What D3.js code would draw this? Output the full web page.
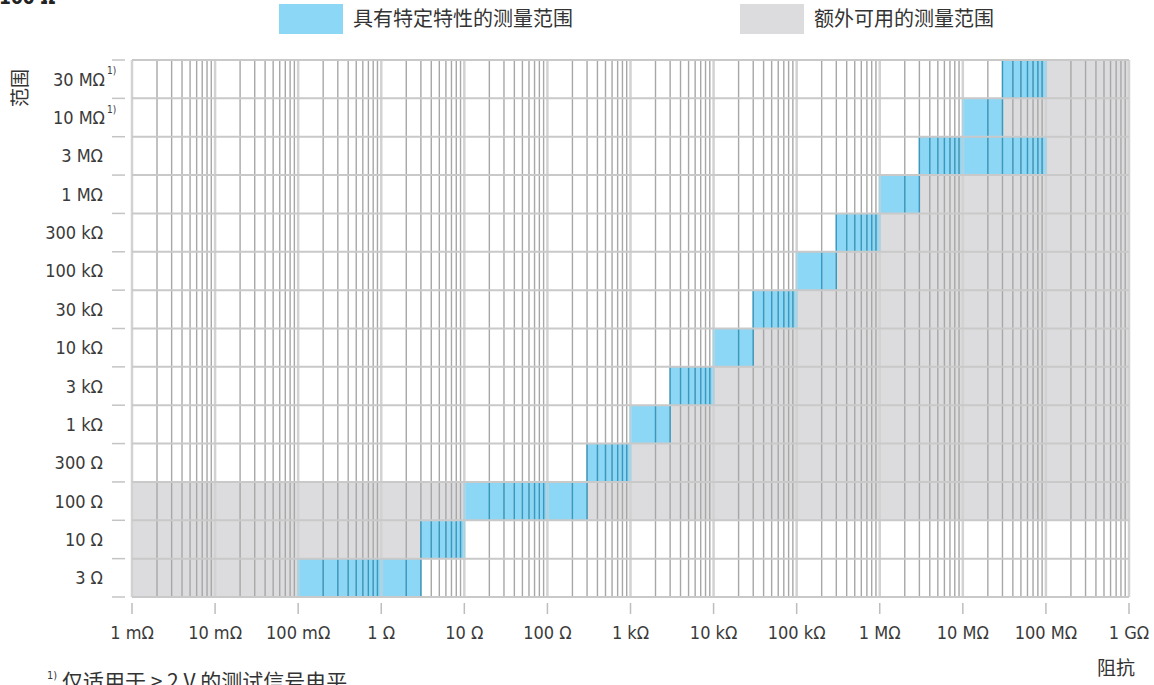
<!DOCTYPE html>
<html>
<head>
<meta charset="utf-8">
<script src="https://cdn.jsdelivr.net/npm/d3@7"></script>
<style>
  html, body { margin: 0; padding: 0; background: #fff; }
  svg { display: block; }
  .lat { font-family: "DejaVu Sans Condensed", "Liberation Sans Narrow", "Roboto", sans-serif; fill: #3a3a3a; }
  .cjk { font-family: "Noto Sans CJK SC", "Noto Sans", sans-serif; fill: #333; }
</style>
</head>
<body>
<svg id="chart" width="1154" height="685"></svg>
<script>
// ---------- data ----------
const rangeLabels = ["30 MΩ","10 MΩ","3 MΩ","1 MΩ","300 kΩ","100 kΩ","30 kΩ","10 kΩ","3 kΩ","1 kΩ","300 Ω","100 Ω","10 Ω","3 Ω"];
const rangeNote   = [true, true, false,false,false,false,false,false,false,false,false,false,false,false];

// specified measurement range (blue), per range row
const specRow   = ["30 MΩ","10 MΩ","3 MΩ","1 MΩ","300 kΩ","100 kΩ","30 kΩ","10 kΩ","3 kΩ","1 kΩ","300 Ω","100 Ω","10 Ω","3 Ω"];
const specStart = [3e7, 1e7, 3e6, 1e6, 3e5, 1e5, 3e4, 1e4, 3e3, 1e3, 300, 10, 3, 0.1];
const specEnd   = [1e8, 3e7, 1e8, 3e6, 1e6, 3e5, 1e5, 3e4, 1e4, 3e3, 1e3, 300, 10, 3];

// additional usable measurement range (grey)
const extraRow   = ["30 MΩ","10 MΩ","3 MΩ","1 MΩ","300 kΩ","100 kΩ","30 kΩ","10 kΩ","3 kΩ","1 kΩ","300 Ω","100 Ω","100 Ω","10 Ω","3 Ω"];
const extraStart = [1e8, 3e7, 1e8, 3e6, 1e6, 3e5, 1e5, 3e4, 1e4, 3e3, 1e3, 1e-3, 300, 1e-3, 1e-3];
const extraEnd   = [1e9, 1e9, 1e9, 1e9, 1e9, 1e9, 1e9, 1e9, 1e9, 1e9, 1e9, 10,   1e9, 3,    0.1];

const xTickValues = [1e-3,1e-2,1e-1,1,10,100,1e3,1e4,1e5,1e6,1e7,1e8,1e9];
const xTickLabels = ["1 mΩ","10 mΩ","100 mΩ","1 Ω","10 Ω","100 Ω","1 kΩ","10 kΩ","100 kΩ","1 MΩ","10 MΩ","100 MΩ","1 GΩ"];

const legendLabels = ["具有特定特性的测量范围","额外可用的测量范围"];
const yTitle = "范围";
const xTitle = "阻抗";
const footnote = "仅适用于 > 2 V 的测试信号电平。";
const cutTitle = "100 Ω";

// ---------- styles ----------
const BLUE = "#8dd7f6", GREY = "#dcdcde";
const MINOR = "#a7a7a7", MAJOR = "#d2d2d2", BLUE_LINE = "#2f9cc6", BLUE_MAJOR = "#a4d4e6";

const svg = d3.select("#chart");
const x = d3.scaleLog().domain([1e-3, 1e9]).range([132, 1129]);
const y = d3.scaleBand().domain(rangeLabels).range([60, 597]).padding(0);
const plotTop = 60, plotBottom = 597;

// grid values
const gridVals = [];
for (let n = -3; n <= 8; n++) for (let k = 1; k <= 9; k++) gridVals.push({v: k * Math.pow(10, n), major: k === 1});
gridVals.push({v: 1e9, major: true});

// ---------- fills ----------
const extra = extraRow.map((r, i) => ({row: r, s: extraStart[i], e: extraEnd[i]}));
const spec  = specRow.map((r, i) => ({row: r, s: specStart[i], e: specEnd[i]}));

svg.append("g").selectAll("rect").data(extra).join("rect")
  .attr("x", d => x(d.s)).attr("y", d => y(d.row))
  .attr("width", d => x(d.e) - x(d.s)).attr("height", y.bandwidth())
  .attr("fill", GREY);
svg.append("g").selectAll("rect").data(spec).join("rect")
  .attr("x", d => x(d.s)).attr("y", d => y(d.row))
  .attr("width", d => x(d.e) - x(d.s)).attr("height", y.bandwidth())
  .attr("fill", BLUE);

// ---------- vertical grid ----------
svg.append("g").selectAll("line").data(gridVals).join("line")
  .attr("x1", d => x(d.v)).attr("x2", d => x(d.v))
  .attr("y1", plotTop).attr("y2", plotBottom)
  .attr("stroke", d => d.major ? MAJOR : MINOR)
  .attr("stroke-width", d => d.major ? 2.5 : 1.4);

// grid lines tinted inside blue cells
const blueLines = [];
spec.forEach(c => gridVals.forEach(g => {
  if (g.v >= c.s * 0.999 && g.v <= c.e * 1.001) blueLines.push({row: c.row, v: g.v, major: g.major});
}));
svg.append("g").selectAll("line").data(blueLines).join("line")
  .attr("x1", d => x(d.v)).attr("x2", d => x(d.v))
  .attr("y1", d => y(d.row)).attr("y2", d => y(d.row) + y.bandwidth())
  .attr("stroke", d => d.major ? BLUE_MAJOR : BLUE_LINE)
  .attr("stroke-width", d => d.major ? 1.8 : 1.3);

// ---------- horizontal row lines + y ticks ----------
const bounds = rangeLabels.map(r => y(r)).concat([plotBottom]);
svg.append("g").selectAll("line").data(bounds).join("line")
  .attr("x1", 132).attr("x2", 1129).attr("y1", d => d).attr("y2", d => d)
  .attr("stroke", "#c9c9c9").attr("stroke-width", 2);
svg.append("g").selectAll("line").data(bounds).join("line")
  .attr("x1", 112).attr("x2", 125).attr("y1", d => d).attr("y2", d => d)
  .attr("stroke", "#c4c4c4").attr("stroke-width", 1.5);

// ---------- y labels ----------
svg.append("g").selectAll("text").data(rangeLabels).join("text")
  .attr("class", "lat")
  .attr("x", (d, i) => rangeNote[i] ? 105 : 103)
  .attr("y", d => y(d) + y.bandwidth() / 2)
  .attr("dy", "0.36em")
  .attr("text-anchor", "end")
  .attr("font-size", 18)
  .text(d => d);
svg.append("g").selectAll("text").data(rangeLabels.filter((d, i) => rangeNote[i])).join("text")
  .attr("class", "lat")
  .attr("x", 107)
  .attr("y", d => y(d) + y.bandwidth() / 2 - 5)
  .attr("font-size", 10)
  .text("1)");

// ---------- x axis ----------
const xa = svg.append("g");
xa.selectAll("line").data(xTickValues).join("line")
  .attr("x1", d => x(d)).attr("x2", d => x(d))
  .attr("y1", 603).attr("y2", 614)
  .attr("stroke", "#bdbdbd").attr("stroke-width", 1.5);
xa.selectAll("text").data(xTickValues).join("text")
  .attr("class", "lat")
  .attr("x", d => x(d)).attr("y", 639)
  .attr("text-anchor", "middle")
  .attr("font-size", 18)
  .text((d, i) => xTickLabels[i]);

// ---------- titles ----------
svg.append("text").attr("class", "lat")
  .attr("x", -1).attr("y", 4)
  .attr("font-size", 19).attr("font-weight", "bold")
  .style("fill", "#222")
  .text(cutTitle);

svg.append("text").attr("class", "cjk")
  .attr("transform", "translate(27,88) rotate(-90)")
  .attr("text-anchor", "middle")
  .attr("font-size", 19)
  .text(yTitle);

svg.append("text").attr("class", "cjk")
  .attr("x", 1135).attr("y", 675)
  .attr("text-anchor", "end")
  .attr("font-size", 19)
  .text(xTitle);

// footnote
svg.append("text").attr("class", "lat")
  .attr("x", 47).attr("y", 679)
  .attr("font-size", 11)
  .text("1)");
svg.append("text").attr("class", "cjk")
  .attr("x", 62).attr("y", 689)
  .attr("font-size", 21)
  .text(footnote);

// ---------- legend ----------
const leg = svg.append("g");
const legX = [279, 740];
const legFill = [BLUE, GREY];
legendLabels.forEach((t, i) => {
  leg.append("rect").attr("x", legX[i]).attr("y", 4).attr("width", 64).attr("height", 30).attr("fill", legFill[i]);
  leg.append("text").attr("class", "cjk")
    .attr("x", legX[i] + 74).attr("y", 19).attr("dy", "0.36em")
    .attr("font-size", 20)
    .text(t);
});
</script>
</body>
</html>
